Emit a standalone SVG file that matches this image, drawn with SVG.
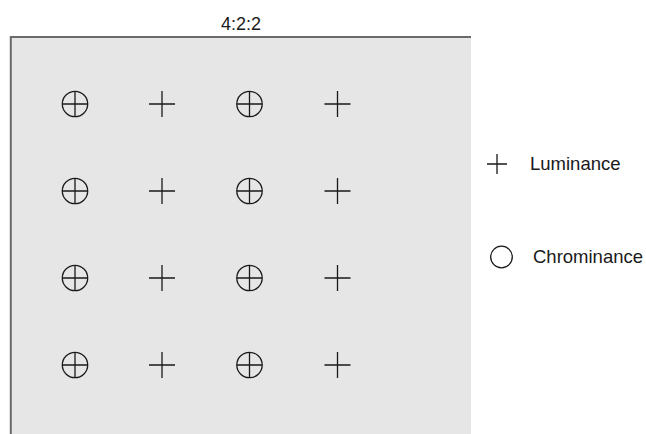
<svg xmlns="http://www.w3.org/2000/svg" width="646" height="434" viewBox="0 0 646 434">
<defs>
<style>
.lbl{font-family:"Liberation Sans",Arial,sans-serif;fill:#1a1a1a}
.mk{stroke:#1a1a1a;stroke-width:1.3;fill:none}
</style>
<g id="lum"><path class="mk" d="M-13,0H13M0,-13V13"/></g>
<g id="chr"><circle class="mk" r="12.7"/><path class="mk" d="M-12.7,0H12.7M0,-12.7V12.7"/></g>
</defs>
<rect width="646" height="434" fill="#ffffff"/>
<g id="panel">
<rect x="10" y="36" width="461" height="400" fill="#e6e6e6"/>
<path d="M10.8,434V37H471" fill="none" stroke="#6a6a6a" stroke-width="2"/>
</g>
<text id="title" class="lbl" x="241" y="30" font-size="18" text-anchor="middle">4:2:2</text>
<g id="samples">
<use href="#chr" x="75" y="104"/><use href="#lum" x="162" y="104"/><use href="#chr" x="249.5" y="104"/><use href="#lum" x="337.5" y="104"/>
<use href="#chr" x="75" y="191"/><use href="#lum" x="162" y="191"/><use href="#chr" x="249.5" y="191"/><use href="#lum" x="337.5" y="191"/>
<use href="#chr" x="75" y="278"/><use href="#lum" x="162" y="278"/><use href="#chr" x="249.5" y="278"/><use href="#lum" x="337.5" y="278"/>
<use href="#chr" x="75" y="365"/><use href="#lum" x="162" y="365"/><use href="#chr" x="249.5" y="365"/><use href="#lum" x="337.5" y="365"/>
</g>
<g id="legend-luminance">
<path class="mk" d="M487,164H507M497,154V174"/>
<text class="lbl" x="530" y="170" font-size="18.5">Luminance</text>
</g>
<g id="legend-chrominance">
<circle class="mk" cx="501.5" cy="257" r="10.8"/>
<text class="lbl" x="533" y="263" font-size="18.5">Chrominance</text>
</g>
</svg>
